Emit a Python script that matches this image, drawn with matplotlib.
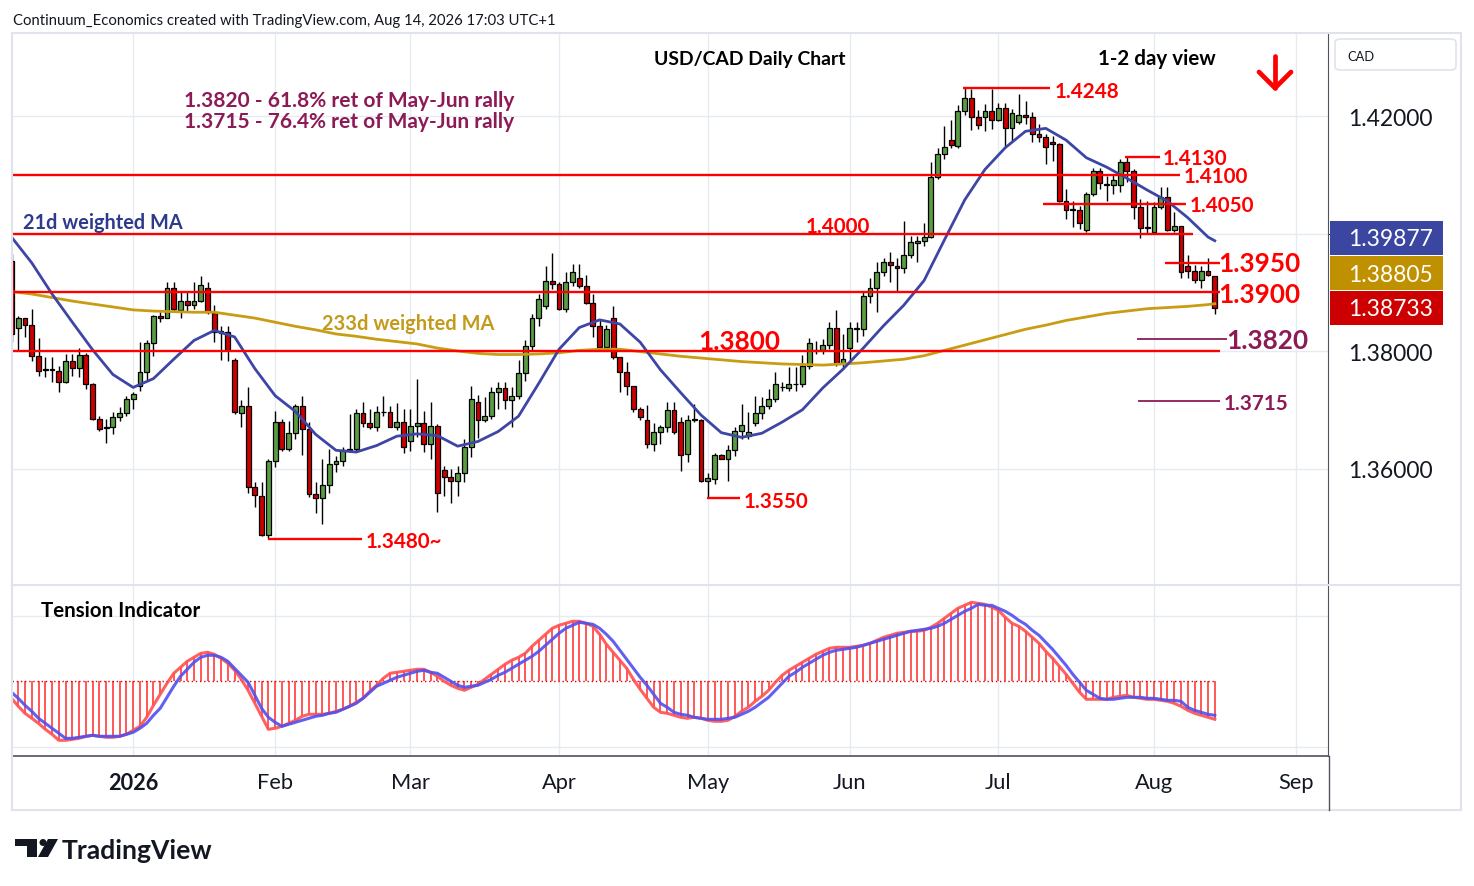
import numpy as np
import pandas as pd
import matplotlib
matplotlib.use("Agg")
import matplotlib.pyplot as plt
from matplotlib.patches import Rectangle, FancyBboxPatch, Polygon, Ellipse
from matplotlib.lines import Line2D

plt.rcParams["font.family"] = ["Lato", "DejaVu Sans"]

# ---------------- data: USD/CAD daily candles ----------------
opens = [
    1.3953, 1.3840, 1.3856, 1.3844, 1.3791, 1.3767, 1.3769, 1.3766, 1.3748, 1.3783,
    1.3771, 1.3794, 1.3743, 1.3685, 1.3669, 1.3670, 1.3687, 1.3694, 1.3719, 1.3741,
    1.3765, 1.3813, 1.3859, 1.3856, 1.3908, 1.3870, 1.3885, 1.3878, 1.3885, 1.3907,
    1.3865, 1.3834, 1.3833, 1.3785, 1.3694, 1.3706, 1.3568, 1.3554, 1.3487, 1.3613,
    1.3679, 1.3634, 1.3660, 1.3707, 1.3667, 1.3557, 1.3549, 1.3572, 1.3607, 1.3612,
    1.3632, 1.3633, 1.3694, 1.3677, 1.3670, 1.3696, 1.3697, 1.3671, 1.3679, 1.3646,
    1.3672, 1.3677, 1.3642, 1.3672, 1.3597, 1.3585, 1.3578, 1.3592, 1.3636, 1.3713,
    1.3683, 1.3689, 1.3730, 1.3737, 1.3717, 1.3723, 1.3762, 1.3808, 1.3857, 1.3876,
    1.3920, 1.3914, 1.3871, 1.3917, 1.3925, 1.3910, 1.3882, 1.3842, 1.3806, 1.3857,
    1.3789, 1.3764, 1.3740, 1.3702, 1.3683, 1.3641, 1.3662, 1.3670, 1.3700, 1.3679,
    1.3625, 1.3683, 1.3683, 1.3579, 1.3582, 1.3623, 1.3617, 1.3631, 1.3663, 1.3655,
    1.3677, 1.3694, 1.3706, 1.3718, 1.3739, 1.3737, 1.3743, 1.3744, 1.3775, 1.3801,
    1.3802, 1.3811, 1.3839, 1.3780, 1.3805, 1.3838, 1.3837, 1.3894, 1.3907, 1.3935,
    1.3951, 1.3945, 1.3941, 1.3964, 1.3983, 1.3988, 1.3994, 1.4097, 1.4135, 1.4160,
    1.4149, 1.4208, 1.4230, 1.4199, 1.4199, 1.4208, 1.4194, 1.4213, 1.4179, 1.4189,
    1.4202, 1.4198, 1.4169, 1.4165, 1.4156, 1.4152, 1.4056, 1.4041, 1.4040, 1.4006,
    1.4068, 1.4106, 1.4085, 1.4083, 1.4083, 1.4121, 1.4106, 1.4045, 1.4010, 1.4003,
    1.4045, 1.4062, 1.4006, 1.4012, 1.3944, 1.3937, 1.3921, 1.3937, 1.3928,
]
highs = [
    1.3965, 1.3859, 1.3856, 1.3871, 1.3822, 1.3790, 1.3790, 1.3775, 1.3795, 1.3795,
    1.3805, 1.3796, 1.3746, 1.3689, 1.3684, 1.3696, 1.3704, 1.3724, 1.3731, 1.3815,
    1.3818, 1.3861, 1.3867, 1.3918, 1.3918, 1.3900, 1.3900, 1.3918, 1.3927, 1.3918,
    1.3878, 1.3843, 1.3843, 1.3788, 1.3717, 1.3738, 1.3577, 1.3577, 1.3616, 1.3698,
    1.3685, 1.3681, 1.3710, 1.3723, 1.3679, 1.3577, 1.3616, 1.3634, 1.3622, 1.3637,
    1.3693, 1.3701, 1.3713, 1.3701, 1.3707, 1.3723, 1.3707, 1.3711, 1.3701, 1.3701,
    1.3752, 1.3698, 1.3714, 1.3676, 1.3605, 1.3600, 1.3605, 1.3651, 1.3741, 1.3725,
    1.3721, 1.3738, 1.3748, 1.3747, 1.3738, 1.3785, 1.3818, 1.3863, 1.3897, 1.3945,
    1.3967, 1.3917, 1.3934, 1.3948, 1.3948, 1.3929, 1.3897, 1.3854, 1.3844, 1.3877,
    1.3790, 1.3781, 1.3741, 1.3704, 1.3708, 1.3677, 1.3674, 1.3713, 1.3713, 1.3687,
    1.3691, 1.3710, 1.3684, 1.3592, 1.3626, 1.3625, 1.3640, 1.3670, 1.3710, 1.3696,
    1.3724, 1.3722, 1.3735, 1.3764, 1.3747, 1.3773, 1.3773, 1.3793, 1.3822, 1.3817,
    1.3820, 1.3850, 1.3870, 1.3829, 1.3849, 1.3849, 1.3900, 1.3924, 1.3951, 1.3959,
    1.3968, 1.3959, 1.4022, 1.3995, 1.3996, 1.4018, 1.4121, 1.4145, 1.4183, 1.4193,
    1.4218, 1.4248, 1.4246, 1.4211, 1.4220, 1.4246, 1.4223, 1.4223, 1.4212, 1.4237,
    1.4226, 1.4206, 1.4186, 1.4169, 1.4166, 1.4154, 1.4076, 1.4056, 1.4047, 1.4071,
    1.4111, 1.4111, 1.4098, 1.4101, 1.4127, 1.4130, 1.4110, 1.4059, 1.4056, 1.4053,
    1.4079, 1.4080, 1.4036, 1.4012, 1.3963, 1.3946, 1.3945, 1.3958, 1.3928,
]
lows = [
    1.3815, 1.3802, 1.3824, 1.3783, 1.3757, 1.3756, 1.3748, 1.3730, 1.3745, 1.3758,
    1.3755, 1.3735, 1.3683, 1.3664, 1.3643, 1.3659, 1.3681, 1.3689, 1.3701, 1.3732,
    1.3749, 1.3791, 1.3850, 1.3856, 1.3867, 1.3856, 1.3867, 1.3871, 1.3883, 1.3863,
    1.3815, 1.3785, 1.3783, 1.3693, 1.3671, 1.3559, 1.3535, 1.3485, 1.3480, 1.3602,
    1.3630, 1.3630, 1.3650, 1.3623, 1.3551, 1.3525, 1.3506, 1.3559, 1.3594, 1.3605,
    1.3632, 1.3630, 1.3670, 1.3668, 1.3664, 1.3689, 1.3670, 1.3666, 1.3626, 1.3630,
    1.3654, 1.3628, 1.3616, 1.3526, 1.3554, 1.3542, 1.3554, 1.3577, 1.3619, 1.3652,
    1.3679, 1.3684, 1.3702, 1.3701, 1.3670, 1.3719, 1.3749, 1.3801, 1.3843, 1.3871,
    1.3906, 1.3869, 1.3867, 1.3911, 1.3908, 1.3880, 1.3823, 1.3803, 1.3803, 1.3786,
    1.3731, 1.3725, 1.3696, 1.3683, 1.3635, 1.3630, 1.3642, 1.3662, 1.3659, 1.3596,
    1.3611, 1.3679, 1.3577, 1.3550, 1.3574, 1.3616, 1.3578, 1.3622, 1.3650, 1.3650,
    1.3673, 1.3684, 1.3701, 1.3713, 1.3732, 1.3732, 1.3732, 1.3739, 1.3769, 1.3795,
    1.3795, 1.3803, 1.3775, 1.3772, 1.3783, 1.3815, 1.3826, 1.3882, 1.3866, 1.3928,
    1.3918, 1.3901, 1.3933, 1.3959, 1.3951, 1.3979, 1.3992, 1.4093, 1.4126, 1.4145,
    1.4146, 1.4201, 1.4177, 1.4178, 1.4175, 1.4178, 1.4192, 1.4149, 1.4158, 1.4186,
    1.4186, 1.4155, 1.4155, 1.4118, 1.4124, 1.4054, 1.4025, 1.4011, 1.4008, 1.4003,
    1.4064, 1.4076, 1.4056, 1.4067, 1.4070, 1.4087, 1.4025, 1.3992, 1.4001, 1.4002,
    1.4042, 1.4005, 1.4003, 1.3925, 1.3924, 1.3916, 1.3907, 1.3927, 1.3863,
]
closes = [
    1.3829, 1.3856, 1.3844, 1.3791, 1.3766, 1.3769, 1.3768, 1.3748, 1.3783, 1.3771,
    1.3794, 1.3743, 1.3685, 1.3668, 1.3670, 1.3687, 1.3694, 1.3719, 1.3727, 1.3765,
    1.3814, 1.3859, 1.3856, 1.3908, 1.3871, 1.3885, 1.3878, 1.3885, 1.3912, 1.3867,
    1.3832, 1.3831, 1.3801, 1.3696, 1.3706, 1.3568, 1.3555, 1.3487, 1.3613, 1.3679,
    1.3634, 1.3660, 1.3707, 1.3667, 1.3557, 1.3549, 1.3572, 1.3607, 1.3612, 1.3632,
    1.3634, 1.3694, 1.3677, 1.3671, 1.3696, 1.3697, 1.3671, 1.3679, 1.3636, 1.3673,
    1.3677, 1.3642, 1.3672, 1.3558, 1.3585, 1.3578, 1.3592, 1.3636, 1.3719, 1.3683,
    1.3689, 1.3730, 1.3737, 1.3717, 1.3723, 1.3762, 1.3808, 1.3857, 1.3889, 1.3920,
    1.3914, 1.3871, 1.3917, 1.3934, 1.3910, 1.3882, 1.3842, 1.3806, 1.3837, 1.3789,
    1.3764, 1.3740, 1.3702, 1.3687, 1.3641, 1.3662, 1.3670, 1.3700, 1.3662, 1.3623,
    1.3683, 1.3684, 1.3579, 1.3583, 1.3623, 1.3617, 1.3631, 1.3663, 1.3674, 1.3662,
    1.3694, 1.3706, 1.3718, 1.3744, 1.3738, 1.3744, 1.3744, 1.3775, 1.3813, 1.3800,
    1.3811, 1.3839, 1.3780, 1.3786, 1.3839, 1.3839, 1.3894, 1.3907, 1.3935, 1.3951,
    1.3946, 1.3941, 1.3964, 1.3986, 1.3988, 1.3994, 1.4097, 1.4135, 1.4147, 1.4151,
    1.4208, 1.4230, 1.4199, 1.4185, 1.4208, 1.4194, 1.4213, 1.4179, 1.4205, 1.4202,
    1.4198, 1.4169, 1.4165, 1.4148, 1.4152, 1.4056, 1.4040, 1.4040, 1.4018, 1.4068,
    1.4106, 1.4086, 1.4083, 1.4091, 1.4121, 1.4106, 1.4045, 1.4009, 1.4011, 1.4045,
    1.4062, 1.4006, 1.4012, 1.3934, 1.3937, 1.3921, 1.3937, 1.3929, 1.38733,
]

# moving averages, read every 3rd bar plus the last bar
ma21 = [
    1.3994, 1.3950, 1.3897, 1.3849, 1.3802, 1.3760, 1.3738, 1.3753, 1.3786, 1.3818,
    1.3835, 1.3824, 1.3770, 1.3724, 1.3697, 1.3658, 1.3631, 1.3628, 1.3639, 1.3655,
    1.3659, 1.3656, 1.3638, 1.3646, 1.3663, 1.3689, 1.3745, 1.3803, 1.3840, 1.3853,
    1.3846, 1.3815, 1.3768, 1.3729, 1.3691, 1.3661, 1.3653, 1.3660, 1.3679, 1.3700,
    1.3737, 1.3769, 1.3805, 1.3843, 1.3878, 1.3920, 1.3989, 1.4057, 1.4109, 1.4146,
    1.4174, 1.4179, 1.4159, 1.4129, 1.4113, 1.4094, 1.4074, 1.4055, 1.4027, 1.3994,
    1.39877,
]
ma233 = [
    1.3901, 1.3897, 1.3891, 1.3885, 1.3880, 1.3875, 1.3870, 1.3868, 1.3867, 1.3866,
    1.3866, 1.3861, 1.3856, 1.3849, 1.3842, 1.3836, 1.3829, 1.3825, 1.3820, 1.3816,
    1.3812, 1.3805, 1.3800, 1.3796, 1.3794, 1.3794, 1.3795, 1.3797, 1.3801, 1.3803,
    1.3803, 1.3799, 1.3795, 1.3791, 1.3788, 1.3785, 1.3782, 1.3780, 1.3778, 1.3777,
    1.3776, 1.3778, 1.3780, 1.3783, 1.3786, 1.3792, 1.3801, 1.3810, 1.3819, 1.3828,
    1.3837, 1.3844, 1.3852, 1.3858, 1.3864, 1.3868, 1.3872, 1.3874, 1.3876, 1.3879,
    1.38805,
]

# tension indicator (arbitrary units) and its signal line, one value per bar
tension = [
    -17, -25, -32, -37, -42, -48, -53, -59, -59, -58,
    -57, -55, -54, -55, -56, -56, -55, -53, -49, -45,
    -36, -24, -13, -2, 8, 14, 20, 24, 28, 29,
    27, 23, 18, 11, 2, -9, -22, -35, -48, -47,
    -45, -42, -39, -35, -33, -33, -33, -32, -30, -28,
    -25, -21, -17, -10, -4, 3, 8, 9, 10, 11,
    12, 12, 9, 5, 0, -4, -7, -9, -6, -3,
    2, 7, 12, 17, 21, 24, 28, 35, 41, 47,
    53, 56, 58, 60, 60, 58, 55, 47, 37, 29,
    21, 13, 2, -8, -17, -26, -31, -32, -34, -36,
    -37, -36, -37, -39, -40, -40, -39, -35, -30, -26,
    -20, -15, -9, -1, 6, 11, 15, 19, 23, 27,
    30, 33, 34, 34, 34, 35, 36, 38, 41, 44,
    46, 48, 49, 50, 50, 51, 54, 58, 63, 68,
    73, 76, 79, 78, 77, 74, 71, 64, 58, 55,
    50, 44, 38, 30, 23, 15, 7, -2, -11, -18,
    -18, -18, -18, -16, -15, -14, -16, -17, -18, -18,
    -19, -20, -22, -25, -29, -32, -34, -36, -38,
]
tension_signal = [
    -11, -17, -24, -30, -37, -42, -47, -52, -57, -57,
    -56, -55, -54, -55, -55, -55, -55, -53, -51, -47,
    -42, -34, -27, -16, -5, 5, 12, 19, 24, 26,
    26, 24, 20, 13, 6, -1, -14, -27, -36, -41,
    -45, -43, -41, -39, -37, -35, -34, -32, -31, -28,
    -25, -22, -17, -11, -5, -2, 1, 4, 6, 8,
    10, 11, 9, 8, 4, 0, -4, -6, -5, -4,
    -1, 2, 6, 9, 13, 17, 21, 25, 30, 36,
    42, 48, 53, 56, 59, 58, 57, 53, 47, 40,
    31, 22, 13, 4, -4, -13, -22, -26, -31, -33,
    -34, -36, -37, -38, -38, -38, -37, -36, -33, -30,
    -26, -21, -16, -9, -2, 5, 9, 14, 18, 22,
    26, 29, 31, 32, 33, 34, 36, 38, 40, 42,
    44, 46, 48, 50, 51, 52, 53, 55, 58, 62,
    66, 70, 73, 77, 76, 76, 73, 70, 66, 61,
    57, 51, 46, 39, 32, 24, 16, 7, -1, -9,
    -13, -17, -18, -18, -17, -16, -16, -16, -17, -17,
    -18, -19, -19, -20, -26, -29, -31, -33, -34,
]

red_levels = [1.4248, 1.4130, 1.4100, 1.4050, 1.4000, 1.3950, 1.3900, 1.3800, 1.3550, 1.3480]
fib_levels = [1.3820, 1.3715]
fib_notes = ["61.8% ret of May-Jun rally", "76.4% ret of May-Jun rally"]
month_labels = ["2026", "Feb", "Mar", "Apr", "May", "Jun", "Jul", "Aug", "Sep"]

# trading days (no bars on Dec 25 and Jan 1)
dates = pd.bdate_range("2025-12-05", "2026-08-14")
dates = dates[~dates.isin(pd.to_datetime(["2025-12-25", "2026-01-01"]))]
n = len(dates)
idx = np.arange(n)
ma_x = list(range(0, n - 1, 3)) + [n - 1]
all_days = dates.append(pd.bdate_range("2026-08-17", "2026-09-30"))
month_pos = [int(np.argmax(all_days >= pd.Timestamp(2026, m, 1))) for m in range(1, 10)]

# ---------------- layout helpers (pixels of the 1474x887 picture) ----------------
W, H = 1474, 887


def px2i(px):
    return (px - 11.5) / 6.76


def fx(px):
    return px / W


def fy(py):
    return 1 - py / H


fig = plt.figure(figsize=(W / 100, H / 100), dpi=100)
fig.patch.set_facecolor("white")
rend = fig.canvas.get_renderer()


def fit(txt, width, **kw):
    t = fig.text(0, 0, txt, fontsize=10, **kw)
    w = t.get_window_extent(rend).width
    t.remove()
    return 10.0 * width / w


def label(txt, x0, x1, yc, **kw):
    # +2 px: matplotlib centres on the box incl. descent, TradingView on the glyphs
    s = fit(txt, x1 - x0, **kw)
    fig.text(fx(x0), fy(yc + 2), txt, fontsize=s, ha="left", va="center", **kw)


grid_c = "#e6ebf2"
ax = fig.add_axes([fx(13), fy(585), (1328 - 13) / W, (585 - 35) / H])
ax2 = fig.add_axes([fx(13), fy(757), (1328 - 13) / W, (757 - 587) / H])

for a in (ax, ax2):
    a.set_xlim(px2i(13), px2i(1328))
    for s in ("top", "left"):
        a.spines[s].set_visible(False)
    a.spines["right"].set_color("#50535e")
    a.set_xticks(month_pos)
    a.grid(True, color=grid_c, lw=1)
    a.set_axisbelow(True)
ax.spines["bottom"].set_visible(False)
ax2.spines["bottom"].set_color("#50535e")
ax2.spines["bottom"].set_linewidth(1.2)

ax.set_ylim(1.34034, 1.43396)

# ---------------- candles ----------------
o = np.array(opens)
h = np.array(highs)
l = np.array(lows)
c = np.array(closes)
colors = np.where(c >= o, "#5a9c44", "#cc0000")
ax.vlines(idx, l, h, color="black", lw=1.0, zorder=3)
ax.bar(idx, np.maximum(np.abs(c - o), 0.00006), bottom=np.minimum(o, c), width=0.72,
       color=colors, edgecolor="black", linewidth=0.9, zorder=4)

ax.plot(ma_x, ma233, color="#c89d14", lw=2.0, zorder=5)
ax.plot(ma_x, ma21, color="#3d45a5", lw=2.0, zorder=5)

# ---------------- support / resistance lines ----------------
red_spans = [(963, 1050), (1125, 1160), (13, 1180), (1043, 1186), (13, 1193),
             (1165, 1220), (13, 1220), (13, 1220), (707, 740), (268, 362)]
red_label_x = [1055, 1163, 1184, 1190, 806, 1218, 1218, 698, 744, 366]
red_label_dy = [1, -1, -1, -1, -10, -2, 0, -12, 1, 0]
red_big = [False, False, False, False, False, True, True, True, False, False]
fib_spans = [(1137, 1227), (1138, 1220)]
fib_label_x = [1226, 1224]
fib_label_dy = [-1, 0]
fib_big = [True, False]

small_fs = fit("1.4248", 65, fontweight="bold")
big_fs = fit("1.3900", 82, fontweight="bold")
red_c = "#ff0000"
fib_c = "#8c1a55"

for lv, (a0, a1), lx, dy, big in zip(red_levels, red_spans, red_label_x, red_label_dy, red_big):
    ax.hlines(lv, px2i(a0), px2i(a1), color=red_c, lw=1.7, zorder=6)
    txt = f"{lv:.4f}" + ("~" if lv == min(red_levels) else "")
    ax.annotate(txt, (px2i(lx), lv), xytext=(0, -(dy + 2) * 0.72), textcoords="offset points",
                color=red_c, fontsize=big_fs if big else small_fs, fontweight="bold",
                ha="left", va="center", zorder=7)

for lv, (a0, a1), lx, dy, big in zip(fib_levels, fib_spans, fib_label_x, fib_label_dy, fib_big):
    ax.hlines(lv, px2i(a0), px2i(a1), color=fib_c, lw=1.3, zorder=6)
    ax.annotate(f"{lv:.4f}", (px2i(lx), lv), xytext=(0, -(dy + 2) * 0.72), textcoords="offset points",
                color=fib_c, fontsize=big_fs if big else small_fs,
                fontweight="bold", ha="left", va="center", zorder=7)

# ---------------- price axis ----------------
ax.yaxis.tick_right()
ticks = [1.36, 1.38, 1.42]
ax.set_yticks(ticks)
axis_fs = fit("1.42000", 85)
ax.set_yticklabels([f"{t:.5f}" for t in ticks], fontsize=axis_fs, color="#131722")
ax.tick_params(axis="y", length=0, pad=14.4)
ax.tick_params(axis="x", length=0, labelbottom=False)
ax.set_yticks([1.36, 1.38, 1.40, 1.42], minor=True)
ax.grid(True, which="minor", axis="y", color=grid_c, lw=1)

last_vals = [ma21[-1], ma233[-1], closes[-1]]
box_cols = ["#3a46a0", "#bf9000", "#cc0000"]
box_tops = [222, 257, 292]
for v, bc, bt in zip(last_vals, box_cols, box_tops):
    fig.patches.append(Rectangle((fx(1330), fy(bt + 34)), 113 / W, 34 / H, transform=fig.transFigure,
                                 facecolor=bc, edgecolor="none", zorder=10))
    fig.text(fx(1348), fy(bt + 18), f"{v:.5f}", color="white", fontsize=axis_fs,
             ha="left", va="center", zorder=11)

fig.patches.append(FancyBboxPatch((fx(1335), fy(71)), 121 / W, 31 / H, transform=fig.transFigure,
                                  boxstyle="round,pad=0,rounding_size=0.004",
                                  facecolor="white", edgecolor="#e0e3eb", lw=1.2))
label("CAD", 1347, 1374, 55, color="#131722")

# ---------------- tension indicator ----------------
ax2.set_ylim(-74.7, 95.3)
ax2.vlines(idx, 0, tension, color="#ff4a4a", lw=1.3, zorder=3)
ax2.hlines(0, 0, n - 1, color="#e00000", lw=1.0, linestyles=(0, (1, 2)), zorder=3)
ax2.plot(idx, tension, color="#ff5050", lw=2.2, alpha=0.9, zorder=4)
ax2.plot(idx, tension_signal, color="#5050f0", lw=2.2, alpha=0.9, zorder=5)
ax2.set_yticks([-66, 65])
ax2.tick_params(axis="y", length=0, labelright=False, labelleft=False)
date_fs = fit("Feb", 36)
ax2.set_xticklabels(month_labels, fontsize=date_fs, color="#131722")
ax2.get_xticklabels()[0].set_fontweight("bold")
ax2.tick_params(axis="x", length=0, pad=11.5)

# ---------------- frame lines ----------------
frame = "#e0e3eb"
fig.patches.append(Rectangle((fx(12), fy(811)), (1461 - 12) / W, (811 - 34) / H,
                             transform=fig.transFigure, facecolor="none", edgecolor=frame, lw=1.5))
fig.lines.append(Line2D([fx(12), fx(1461)], [fy(586), fy(586)], transform=fig.transFigure,
                        color=frame, lw=1.5))
fig.lines.append(Line2D([fx(1329), fx(1329)], [fy(757), fy(811)], transform=fig.transFigure,
                        color="#50535e", lw=1.0))

# ---------------- texts ----------------
label("Continuum_Economics created with TradingView.com, Aug 14, 2026 17:03 UTC+1",
      13, 556, 19, color="#131722")
label("USD/CAD Daily Chart", 654, 845, 57, color="black", fontweight="bold")
label("1-2 day view", 1098, 1216, 57, color="black", fontweight="bold")
for k, (lv, note) in enumerate(zip(fib_levels, fib_notes)):
    label(f"{lv:.4f} - {note}", 184, 514, 99 + 21 * k, color=fib_c, fontweight="bold")
label("21d weighted MA", 23, 183, 221, color="#2e3a8c", fontweight="bold")
label("233d weighted MA", 322, 494, 322, color="#c49a1a", fontweight="bold")
label("Tension Indicator", 41, 201, 609, color="black", fontweight="bold")

# down arrow (1-2 day view bias)
for xs, ys in (([1275, 1275], [57, 89]), ([1259, 1275, 1291], [73, 89, 73])):
    fig.lines.append(Line2D([fx(v) for v in xs], [fy(v) for v in ys], transform=fig.transFigure,
                            color="#ff0000", lw=3.4, solid_capstyle="round", solid_joinstyle="round"))

# TradingView logo
logo = "#131722"
fig.patches.append(Polygon([(fx(15), fy(840)), (fx(37), fy(840)), (fx(37), fy(858)), (fx(27), fy(858)),
                            (fx(27), fy(847)), (fx(15), fy(847))], closed=True,
                           transform=fig.transFigure, facecolor=logo, edgecolor="none"))
fig.patches.append(Ellipse((fx(43), fy(843.5)), 7 / W, 7 / H, transform=fig.transFigure,
                           facecolor=logo, edgecolor="none"))
fig.patches.append(Polygon([(fx(48), fy(840)), (fx(58), fy(840)), (fx(48), fy(858)), (fx(38), fy(858))],
                           closed=True, transform=fig.transFigure, facecolor=logo, edgecolor="none"))
label("TradingView", 62, 213, 849, color=logo, fontweight="bold")

fig.savefig("out.png", dpi=100)
